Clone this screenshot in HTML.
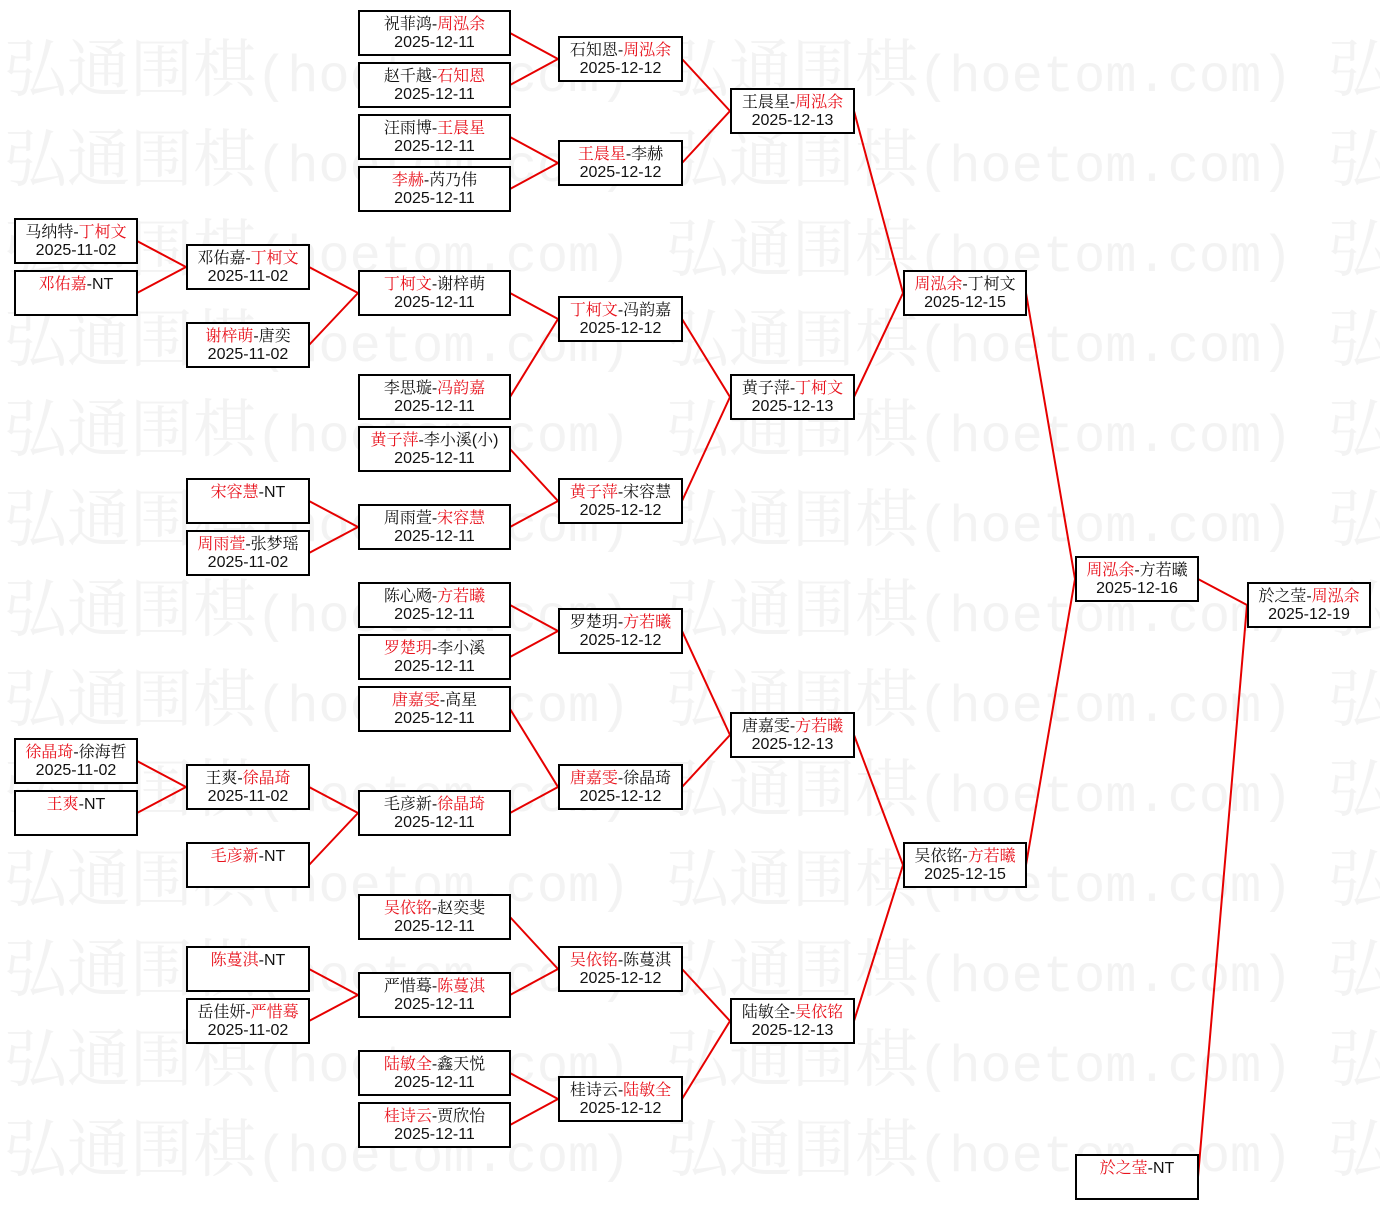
<!DOCTYPE html>
<html><head><meta charset="utf-8">
<style>
html,body{margin:0;padding:0;background:#fff;}
body{width:1380px;height:1209px;position:relative;overflow:hidden;}
svg{position:absolute;left:0;top:0;}
.wm text.c{font-family:"Noto Serif CJK SC","Liberation Serif",serif;font-size:63px;fill:#f3f3f3;}
.wm text.m{font-family:"Liberation Mono",monospace;font-size:52px;fill:#f3f3f3;}
.b{position:absolute;height:46px;box-sizing:border-box;border:2px solid #000;background:#fff;
 font-family:"Liberation Sans","Noto Serif CJK SC",serif;font-size:16px;line-height:18px;color:#111;
 text-align:center;padding-top:4px;white-space:nowrap;}
.b i{font-style:normal;color:#e8121c;}
.c0{left:14px;width:124px}.c1{left:186px;width:124px}.c2{left:358px;width:153px}
.c3{left:558px;width:125px}.c4{left:730px;width:125px}.c5{left:903px;width:124px}
.c6{left:1075px;width:124px}.c7{left:1247px;width:124px}
</style></head><body>
<svg class="wm" width="1380" height="1209">
<g><text class="c" x="4" y="91">弘通围棋</text><text class="m" x="256" y="91">(hoetom.com)</text><text class="c" x="666" y="91">弘通围棋</text><text class="m" x="918" y="91">(hoetom.com)</text><text class="c" x="1328" y="91">弘通围棋</text></g>
<g transform="translate(0,90)"><text class="c" x="4" y="91">弘通围棋</text><text class="m" x="256" y="91">(hoetom.com)</text><text class="c" x="666" y="91">弘通围棋</text><text class="m" x="918" y="91">(hoetom.com)</text><text class="c" x="1328" y="91">弘通围棋</text></g>
<g transform="translate(0,180)"><text class="c" x="4" y="91">弘通围棋</text><text class="m" x="256" y="91">(hoetom.com)</text><text class="c" x="666" y="91">弘通围棋</text><text class="m" x="918" y="91">(hoetom.com)</text><text class="c" x="1328" y="91">弘通围棋</text></g>
<g transform="translate(0,270)"><text class="c" x="4" y="91">弘通围棋</text><text class="m" x="256" y="91">(hoetom.com)</text><text class="c" x="666" y="91">弘通围棋</text><text class="m" x="918" y="91">(hoetom.com)</text><text class="c" x="1328" y="91">弘通围棋</text></g>
<g transform="translate(0,360)"><text class="c" x="4" y="91">弘通围棋</text><text class="m" x="256" y="91">(hoetom.com)</text><text class="c" x="666" y="91">弘通围棋</text><text class="m" x="918" y="91">(hoetom.com)</text><text class="c" x="1328" y="91">弘通围棋</text></g>
<g transform="translate(0,450)"><text class="c" x="4" y="91">弘通围棋</text><text class="m" x="256" y="91">(hoetom.com)</text><text class="c" x="666" y="91">弘通围棋</text><text class="m" x="918" y="91">(hoetom.com)</text><text class="c" x="1328" y="91">弘通围棋</text></g>
<g transform="translate(0,540)"><text class="c" x="4" y="91">弘通围棋</text><text class="m" x="256" y="91">(hoetom.com)</text><text class="c" x="666" y="91">弘通围棋</text><text class="m" x="918" y="91">(hoetom.com)</text><text class="c" x="1328" y="91">弘通围棋</text></g>
<g transform="translate(0,630)"><text class="c" x="4" y="91">弘通围棋</text><text class="m" x="256" y="91">(hoetom.com)</text><text class="c" x="666" y="91">弘通围棋</text><text class="m" x="918" y="91">(hoetom.com)</text><text class="c" x="1328" y="91">弘通围棋</text></g>
<g transform="translate(0,720)"><text class="c" x="4" y="91">弘通围棋</text><text class="m" x="256" y="91">(hoetom.com)</text><text class="c" x="666" y="91">弘通围棋</text><text class="m" x="918" y="91">(hoetom.com)</text><text class="c" x="1328" y="91">弘通围棋</text></g>
<g transform="translate(0,810)"><text class="c" x="4" y="91">弘通围棋</text><text class="m" x="256" y="91">(hoetom.com)</text><text class="c" x="666" y="91">弘通围棋</text><text class="m" x="918" y="91">(hoetom.com)</text><text class="c" x="1328" y="91">弘通围棋</text></g>
<g transform="translate(0,900)"><text class="c" x="4" y="91">弘通围棋</text><text class="m" x="256" y="91">(hoetom.com)</text><text class="c" x="666" y="91">弘通围棋</text><text class="m" x="918" y="91">(hoetom.com)</text><text class="c" x="1328" y="91">弘通围棋</text></g>
<g transform="translate(0,990)"><text class="c" x="4" y="91">弘通围棋</text><text class="m" x="256" y="91">(hoetom.com)</text><text class="c" x="666" y="91">弘通围棋</text><text class="m" x="918" y="91">(hoetom.com)</text><text class="c" x="1328" y="91">弘通围棋</text></g>
<g transform="translate(0,1080)"><text class="c" x="4" y="91">弘通围棋</text><text class="m" x="256" y="91">(hoetom.com)</text><text class="c" x="666" y="91">弘通围棋</text><text class="m" x="918" y="91">(hoetom.com)</text><text class="c" x="1328" y="91">弘通围棋</text></g>
</svg>
<svg width="1380" height="1209">
<g stroke="#e60000" stroke-width="2" fill="none">
<path d="M137 241L186 267M137 293L186 267M137 761L186 787M137 813L186 787"/>
<path d="M309 267L358 293M309 345L358 293M309 501L358 527M309 553L358 527M309 787L358 813M309 865L358 813M309 969L358 995M309 1021L358 995"/>
<path d="M510 33L558 59M510 85L558 59M510 137L558 163M510 189L558 163M510 293L558 319M510 397L558 319M510 449L558 501M510 527L558 501M510 605L558 631M510 657L558 631M510 709L558 787M510 813L558 787M510 917L558 969M510 995L558 969M510 1073L558 1099M510 1125L558 1099"/>
<path d="M682 59L730 111M682 163L730 111M682 319L730 397M682 501L730 397M682 631L730 735M682 787L730 735M682 969L730 1021M682 1099L730 1021"/>
<path d="M854 111L903 293M854 397L903 293M854 735L903 865M854 1021L903 865"/>
<path d="M1026 293L1075 579M1026 865L1075 579"/>
<path d="M1198 579L1247 605M1198 1177L1247 605"/>
</g>
</svg>

<div class="b c0" style="top:218px">马纳特-<i>丁柯文</i><br>2025-11-02</div>
<div class="b c0" style="top:270px"><i>邓佑嘉</i>-NT</div>
<div class="b c0" style="top:738px"><i>徐晶琦</i>-徐海哲<br>2025-11-02</div>
<div class="b c0" style="top:790px"><i>王爽</i>-NT</div>

<div class="b c1" style="top:244px">邓佑嘉-<i>丁柯文</i><br>2025-11-02</div>
<div class="b c1" style="top:322px"><i>谢梓萌</i>-唐奕<br>2025-11-02</div>
<div class="b c1" style="top:478px"><i>宋容慧</i>-NT</div>
<div class="b c1" style="top:530px"><i>周雨萱</i>-张梦瑶<br>2025-11-02</div>
<div class="b c1" style="top:764px">王爽-<i>徐晶琦</i><br>2025-11-02</div>
<div class="b c1" style="top:842px"><i>毛彦新</i>-NT</div>
<div class="b c1" style="top:946px"><i>陈蔓淇</i>-NT</div>
<div class="b c1" style="top:998px">岳佳妍-<i>严惜蓦</i><br>2025-11-02</div>

<div class="b c2" style="top:10px">祝菲鸿-<i>周泓余</i><br>2025-12-11</div>
<div class="b c2" style="top:62px">赵千越-<i>石知恩</i><br>2025-12-11</div>
<div class="b c2" style="top:114px">汪雨博-<i>王晨星</i><br>2025-12-11</div>
<div class="b c2" style="top:166px"><i>李赫</i>-芮乃伟<br>2025-12-11</div>
<div class="b c2" style="top:270px"><i>丁柯文</i>-谢梓萌<br>2025-12-11</div>
<div class="b c2" style="top:374px">李思璇-<i>冯韵嘉</i><br>2025-12-11</div>
<div class="b c2" style="top:426px"><i>黄子萍</i>-李小溪(小)<br>2025-12-11</div>
<div class="b c2" style="top:504px">周雨萱-<i>宋容慧</i><br>2025-12-11</div>
<div class="b c2" style="top:582px">陈心飏-<i>方若曦</i><br>2025-12-11</div>
<div class="b c2" style="top:634px"><i>罗楚玥</i>-李小溪<br>2025-12-11</div>
<div class="b c2" style="top:686px"><i>唐嘉雯</i>-高星<br>2025-12-11</div>
<div class="b c2" style="top:790px">毛彦新-<i>徐晶琦</i><br>2025-12-11</div>
<div class="b c2" style="top:894px"><i>吴依铭</i>-赵奕斐<br>2025-12-11</div>
<div class="b c2" style="top:972px">严惜蓦-<i>陈蔓淇</i><br>2025-12-11</div>
<div class="b c2" style="top:1050px"><i>陆敏全</i>-鑫天悦<br>2025-12-11</div>
<div class="b c2" style="top:1102px"><i>桂诗云</i>-贾欣怡<br>2025-12-11</div>

<div class="b c3" style="top:36px">石知恩-<i>周泓余</i><br>2025-12-12</div>
<div class="b c3" style="top:140px"><i>王晨星</i>-李赫<br>2025-12-12</div>
<div class="b c3" style="top:296px"><i>丁柯文</i>-冯韵嘉<br>2025-12-12</div>
<div class="b c3" style="top:478px"><i>黄子萍</i>-宋容慧<br>2025-12-12</div>
<div class="b c3" style="top:608px">罗楚玥-<i>方若曦</i><br>2025-12-12</div>
<div class="b c3" style="top:764px"><i>唐嘉雯</i>-徐晶琦<br>2025-12-12</div>
<div class="b c3" style="top:946px"><i>吴依铭</i>-陈蔓淇<br>2025-12-12</div>
<div class="b c3" style="top:1076px">桂诗云-<i>陆敏全</i><br>2025-12-12</div>

<div class="b c4" style="top:88px">王晨星-<i>周泓余</i><br>2025-12-13</div>
<div class="b c4" style="top:374px">黄子萍-<i>丁柯文</i><br>2025-12-13</div>
<div class="b c4" style="top:712px">唐嘉雯-<i>方若曦</i><br>2025-12-13</div>
<div class="b c4" style="top:998px">陆敏全-<i>吴依铭</i><br>2025-12-13</div>

<div class="b c5" style="top:270px"><i>周泓余</i>-丁柯文<br>2025-12-15</div>
<div class="b c5" style="top:842px">吴依铭-<i>方若曦</i><br>2025-12-15</div>

<div class="b c6" style="top:556px"><i>周泓余</i>-方若曦<br>2025-12-16</div>
<div class="b c6" style="top:1154px"><i>於之莹</i>-NT</div>

<div class="b c7" style="top:582px">於之莹-<i>周泓余</i><br>2025-12-19</div>
</body></html>
